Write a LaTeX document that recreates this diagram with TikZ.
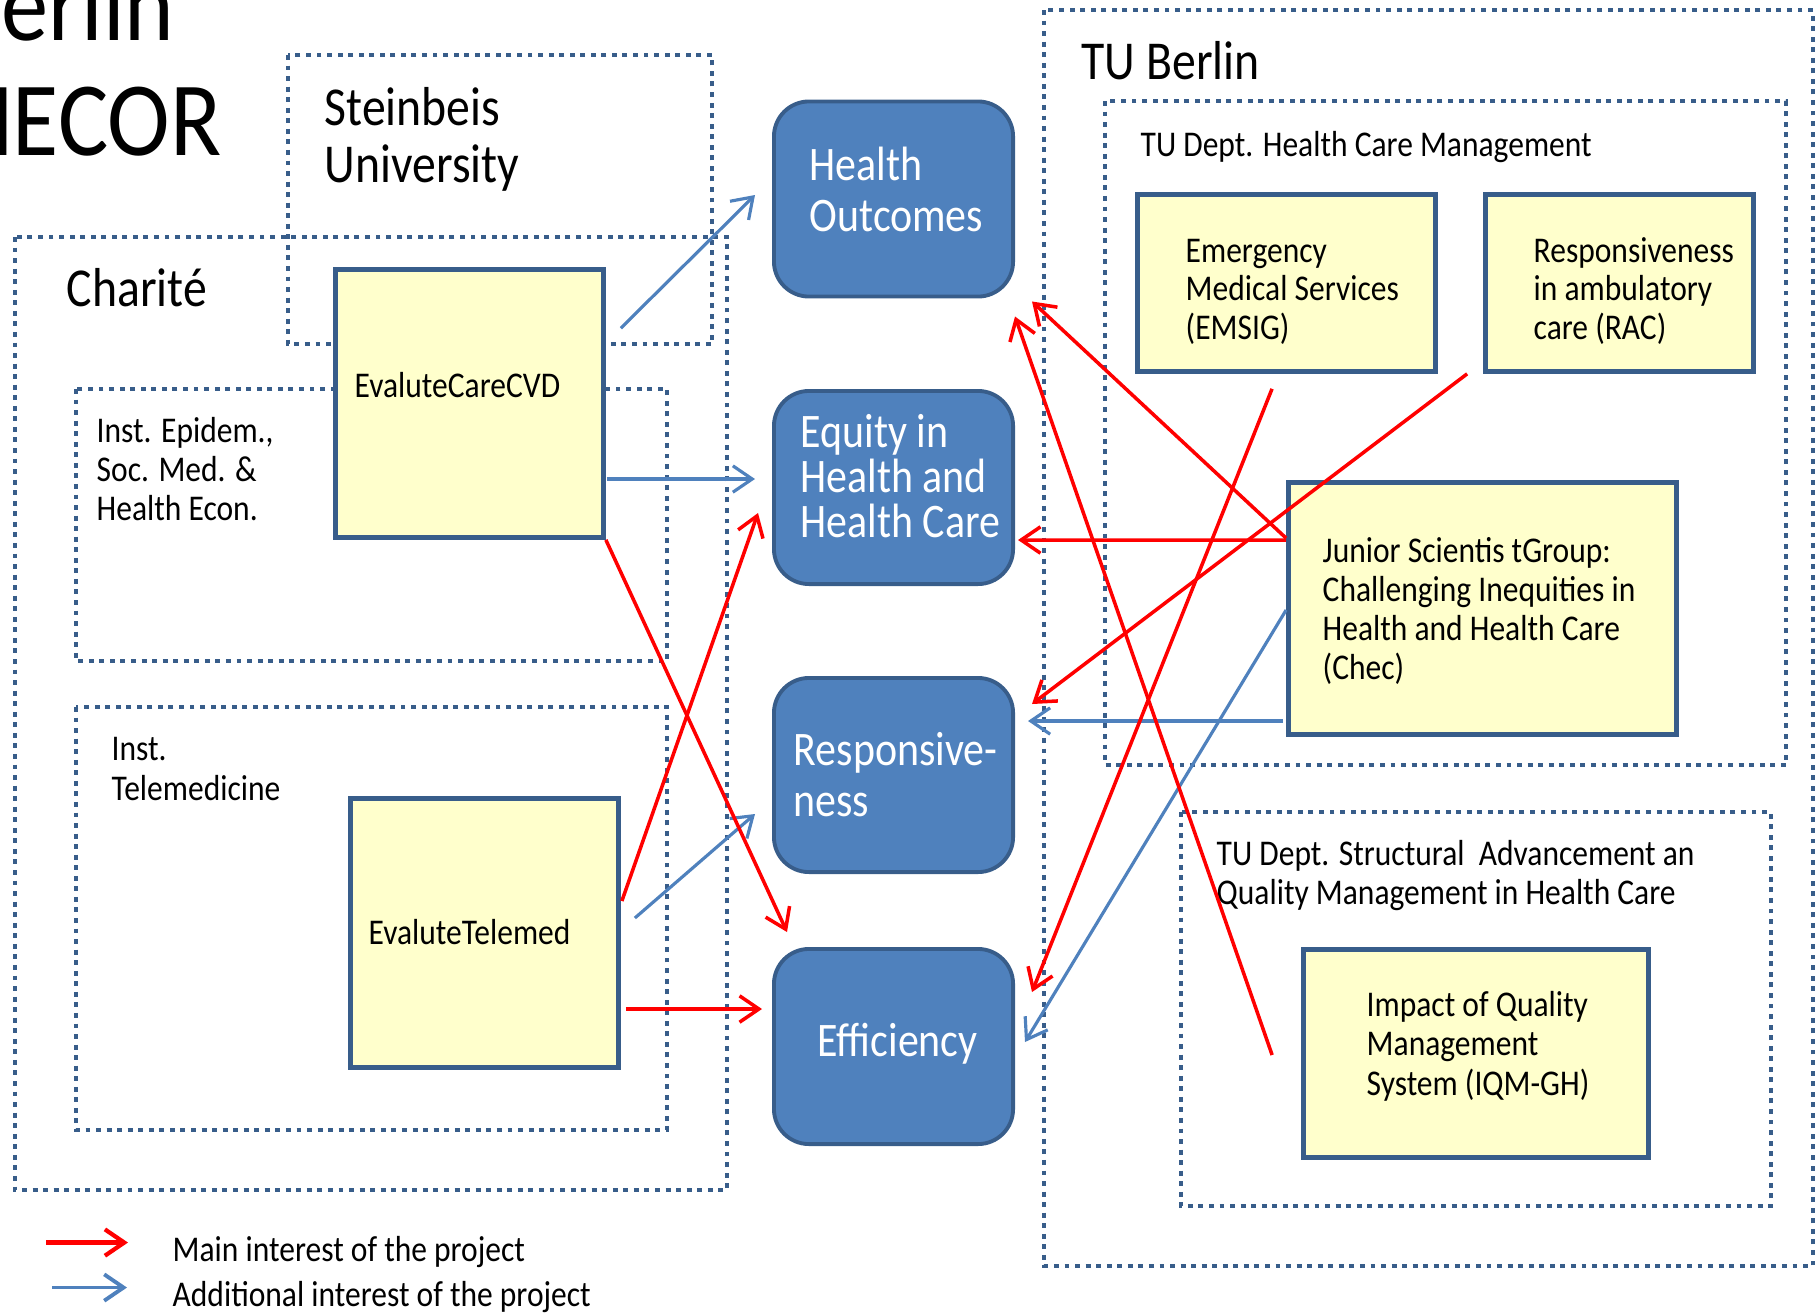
\documentclass[tikz,border=0pt]{standalone}
\usepackage{fontspec}
\setmainfont{Carlito}[FakeStretch=0.87]
\newfontfamily\titlefont{Carlito}[FakeStretch=0.895]
\usetikzlibrary{arrows.meta,calc,positioning}
\definecolor{boxblue}{HTML}{4F81BD}
\definecolor{edgeblue}{HTML}{385D8A}
\definecolor{paleyellow}{HTML}{FFFFCC}
\newcommand\fsmall{\fontsize{10.3}{10.9}\selectfont}
\newcommand\fbig{\fontsize{15.6}{16.2}\selectfont}
\newcommand\foutcome{\fontsize{13.7}{14.4}\selectfont}
\tikzset{
  group/.style={draw=edgeblue, line width=1.28pt, dash pattern=on 1.4pt off 1.6pt},
  unit/.style={draw=edgeblue, line width=1.3pt, fill=paleyellow, inner sep=0pt},
  outcome/.style={draw=edgeblue, line width=1.1pt, fill=boxblue, rounded corners=0.35cm, inner sep=0pt},
  txt/.style={anchor=base west, inner sep=0pt, align=left, font=\fsmall},
  mainlink/.style={draw=red, line width=1pt, -{Straight Barb[length=5.5pt,width=7.5pt]}},
  extralink/.style={draw=boxblue, line width=0.9pt, -{Straight Barb[length=5.5pt,width=7.5pt]}}
}
\begin{document}
\begin{tikzpicture}[x=0.01cm,y=-0.01cm]
\useasboundingbox (0,0) rectangle (1816,1312);
% title, cut off by the page edge
\node[anchor=base east, inner sep=0pt, font=\titlefont\fontsize{30}{32}\selectfont] (title1) at (175,40) {Berlin};
\node[anchor=base east, inner sep=0pt, font=\titlefont\fontsize{30}{32}\selectfont] (title2) at (222,155) {HECOR};

% institutions
\draw[group] (288,55) rectangle (712,344);
\draw[group] (15,237) rectangle (727,1190);
\draw[group] (76,389) rectangle (667,661);
\draw[group] (76,707) rectangle (667,1130);
\draw[group] (1044,10) rectangle (1813,1266);
\draw[group] (1105,101) rectangle (1786,765);
\draw[group] (1181,812) rectangle (1771,1206);
% multi-line texts sit on the baseline of their last line
\node[txt, font=\fbig] (steinbeislbl) at (324,182) {Steinbeis\\University};
\node[txt, font=\fbig] (charitelbl) at (66,306) {Charité};
\node[txt, font=\fbig] (tulbl) at (1081,79) {TU Berlin};
\node[txt, font=\fontsize{10.3}{11}\selectfont] (epidemlbl) at (96,520) {Inst. Epidem.,\\Soc. Med. \&\\Health Econ.};
\node[txt, font=\fontsize{10.3}{11.1}\selectfont] (telemedlbl) at (111,800) {Inst.\\Telemedicine};
\node[txt] (hcmlbl) at (1140,156) {TU Dept. Health Care Management};
\node[txt] (saqmlbl) at (1216,904) {TU Dept. Structural\ \ Advancement an\\Quality Management in Health Care};

% projects
\node[unit, minimum width=2.68cm, minimum height=2.68cm] (cvd) at (469.5,403.5) {};
\node[unit, minimum width=2.68cm, minimum height=2.69cm] (telemed) at (484.5,933) {};
\node[unit, minimum width=2.98cm, minimum height=1.77cm] (emsig) at (1286.5,283) {};
\node[unit, minimum width=2.68cm, minimum height=1.77cm] (rac) at (1619.5,283) {};
\node[unit, minimum width=3.88cm, minimum height=2.52cm] (chec) at (1482.5,608.5) {};
\node[unit, minimum width=3.45cm, minimum height=2.08cm] (iqm) at (1476,1053.5) {};
\node[txt] (cvdtxt) at (354,397) {EvaluteCareCVD};
\node[txt] (telemedtxt) at (368,944) {EvaluteTelemed};
\node[txt] (emsigtxt) at (1185,339) {Emergency\\Medical Services\\(EMSIG)};
\node[txt] (ractxt) at (1533,339) {Responsiveness\\in ambulatory\\care (RAC)};
\node[txt, font=\fontsize{10.3}{11}\selectfont] (chectxt) at (1322,679) {Junior Scientis tGroup:\\Challenging Inequities in\\Health and Health Care\\(Chec)};
\node[txt, font=\fontsize{10.3}{11.1}\selectfont] (iqmtxt) at (1366,1095) {Impact of Quality\\Management\\System (IQM-GH)};

% outcomes
\node[outcome, minimum width=2.39cm, minimum height=1.95cm] (ho) at (893.5,199) {};
\node[outcome, minimum width=2.39cm, minimum height=1.93cm] (equity) at (893.5,487.5) {};
\node[outcome, minimum width=2.39cm, minimum height=1.94cm] (resp) at (893.5,775) {};
\node[outcome, minimum width=2.39cm, minimum height=1.95cm] (eff) at (893.5,1046.5) {};
\node[txt, font=\foutcome, text=white] (hotxt) at (809,231) {Health\\Outcomes};
\node[txt, font=\fontsize{13.7}{12.7}\selectfont, text=white] (equitytxt) at (800,537) {Equity in\\Health and\\Health Care};
\node[txt, font=\foutcome, text=white] (resptxt) at (793,816) {Responsive-\\ness};
\node[txt, font=\foutcome, text=white] (efftxt) at (817,1056) {Efficiency};

% additional interest
\draw[extralink] ($(cvd.north east)+(15,61)$) -- ($(ho.west)+(-17,-4)$);
\draw[extralink] ($(cvd.east)+(1,75.5)$) -- ($(equity.west)+(-17,-8.5)$);
\draw[extralink] ($(telemed.east)+(14,-15)$) -- ($(resp.west)+(-17,39)$);
\draw[extralink] ($(chec.west)+(-3,112.5)$) -- ($(resp.east)+(13,-54)$);
\draw[extralink] ($(chec.west)+(0,1.5)$) -- ($(eff.east)+(10,-4.5)$);
% main interest
\draw[mainlink] (cvd.south east) -- ($(eff.north west)+(15,-15)$);
\draw[mainlink] ($(telemed.east)+(1,-32)$) -- ($(equity.west)+(-14,25.5)$);
\draw[mainlink] ($(telemed.east)+(5,76)$) -- ($(eff.west)+(-10,-37.5)$);
\draw[mainlink] ($(chec.north west)+(0,58)$) -- ($(ho.south east)+(17,3)$);
\draw[mainlink] ($(chec.north west)+(0,60)$) -- ($(equity.east)+(3,52.5)$);
\draw[mainlink] ($(rac.south west)+(-16,0)$) -- ($(resp.north east)+(17,28)$);
\draw[mainlink] ($(emsig.south)+(-14.5,15)$) -- ($(eff.north east)+(17,45)$);
\draw[mainlink] ($(iqm.west)+(-29,1.5)$) -- ($(ho.south east)+(0,18)$);

% legend
\node[txt] (mainlbl) at (172,1261) {Main interest of the project};
\node[txt] (extralbl) at (172,1306) {Additional interest of the project};
\draw[mainlink, line width=1.2pt] ($(mainlbl.west)+(-126,-9)$) -- ($(mainlbl.west)+(-44,-9)$);
\draw[extralink, line width=1.1pt] ($(extralbl.west)+(-120,-9)$) -- ($(extralbl.west)+(-45,-9)$);
\end{tikzpicture}
\end{document}
